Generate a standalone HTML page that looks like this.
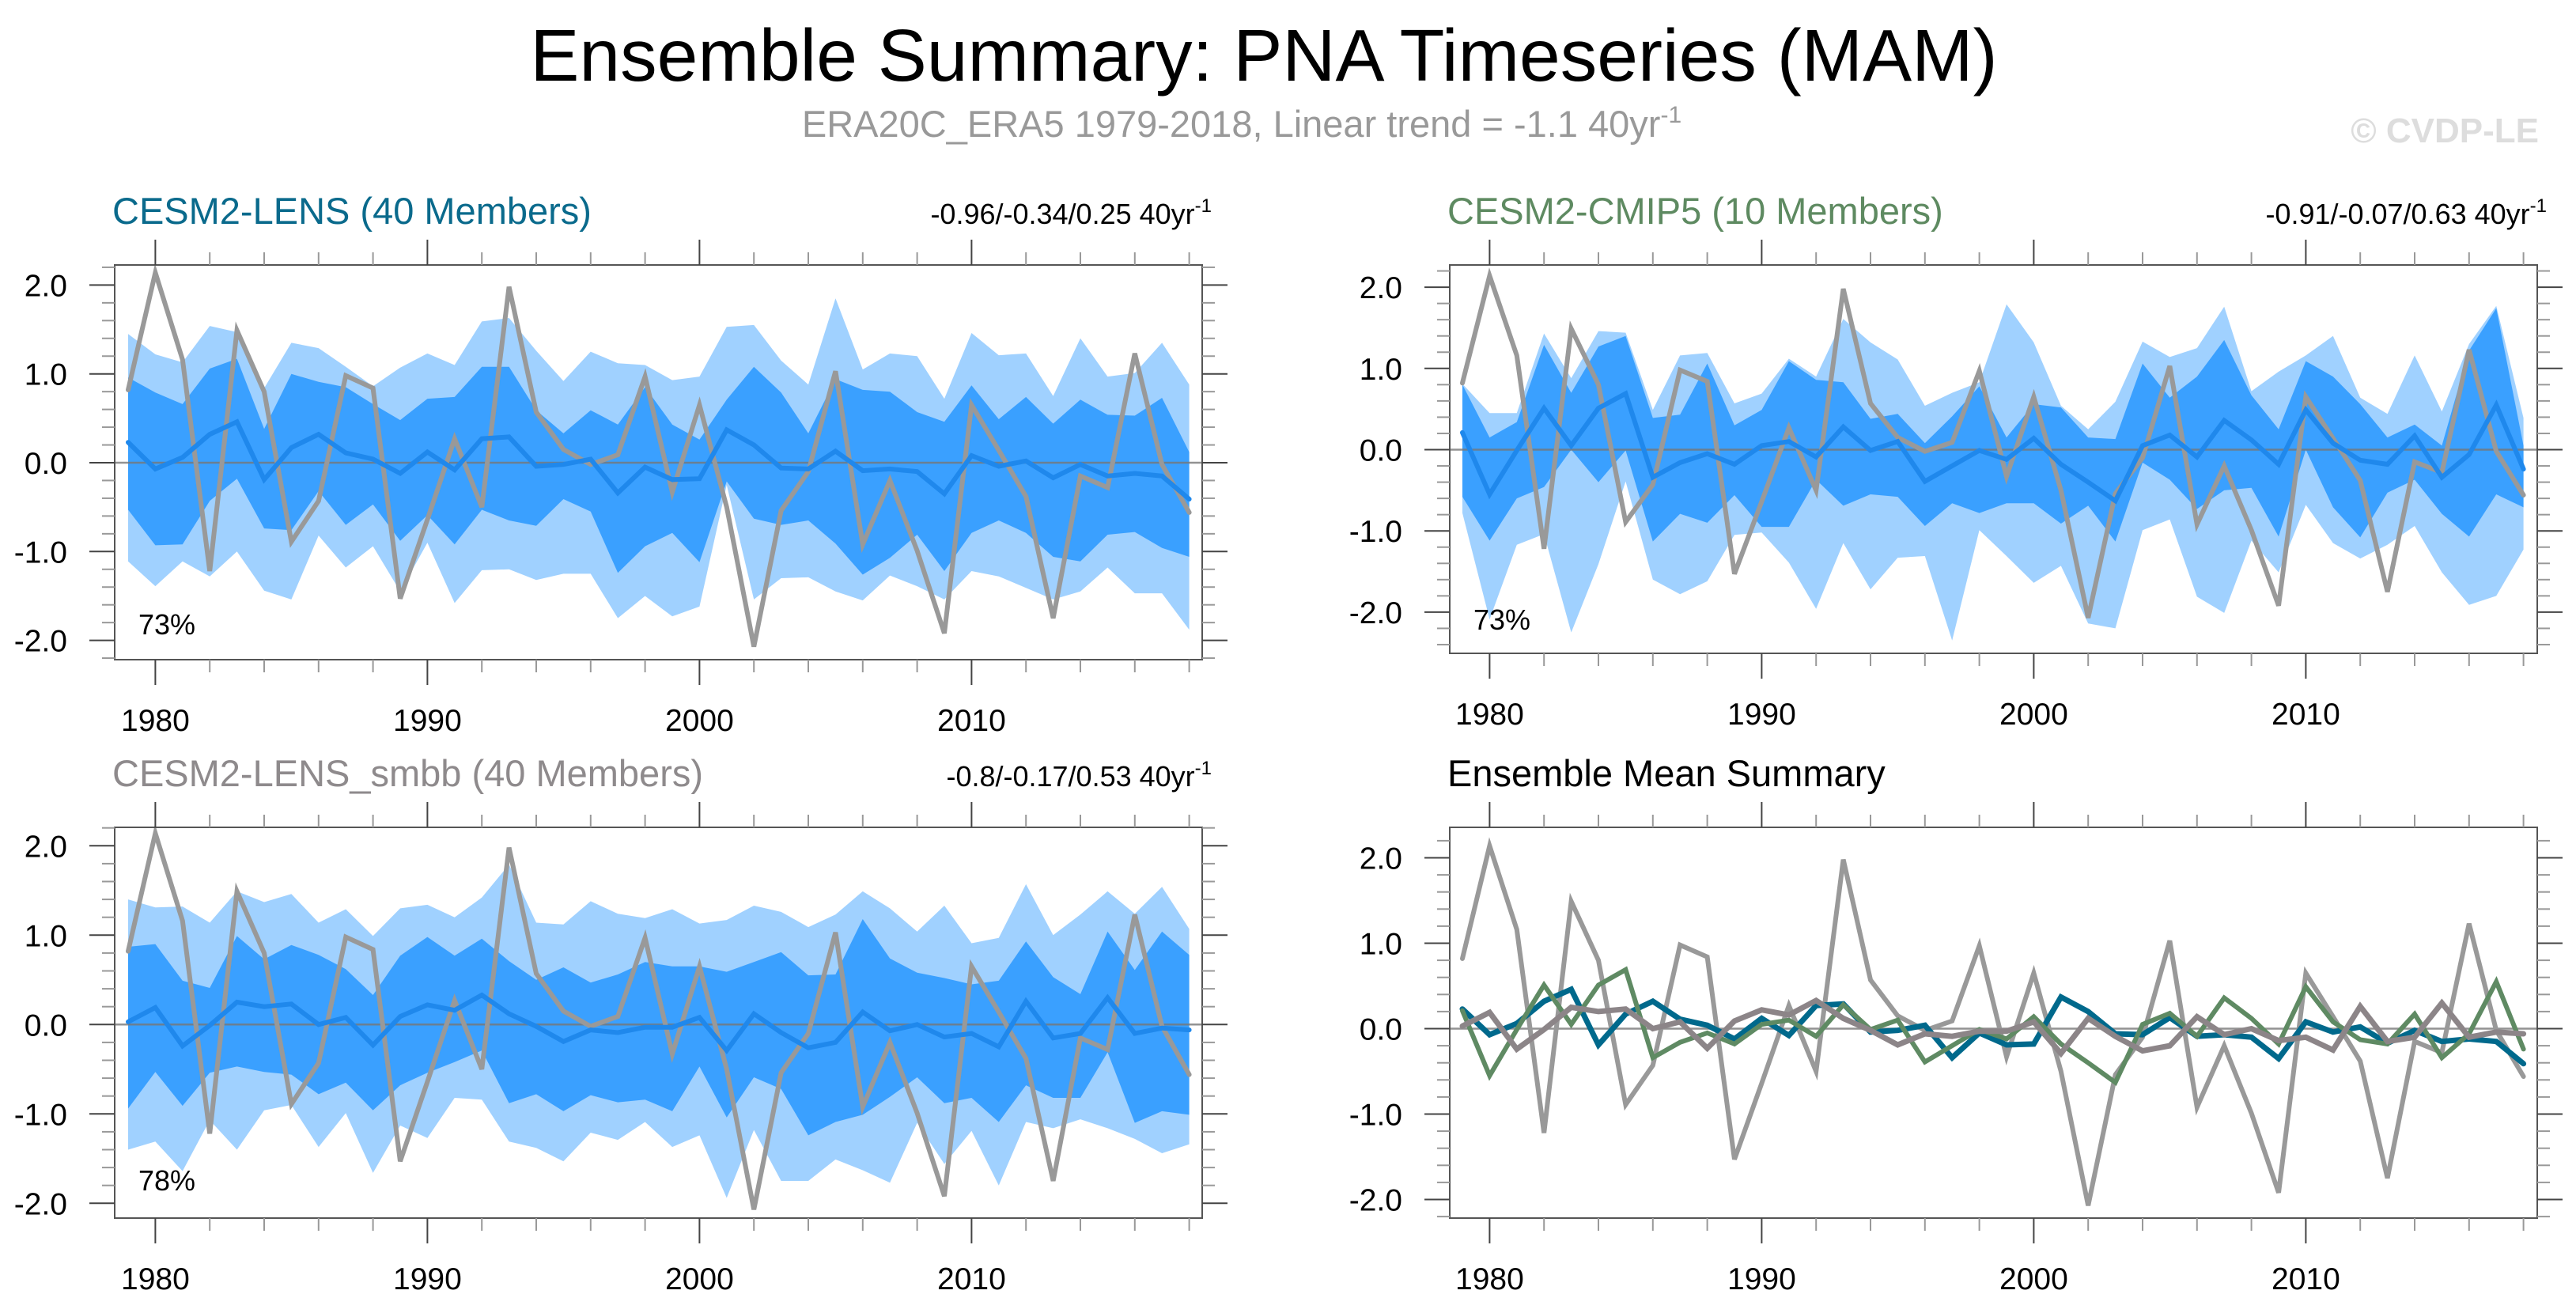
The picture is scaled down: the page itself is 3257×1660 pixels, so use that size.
<!DOCTYPE html>
<html><head><meta charset="utf-8"><style>
html,body{margin:0;padding:0;background:#fff;}
svg{display:block;font-family:"Liberation Sans",Arial,sans-serif;}
</style></head><body>
<svg id="chart" width="3257" height="1660" viewBox="0 0 3257 1660" xmlns="http://www.w3.org/2000/svg">
<rect width="3257" height="1660" fill="#fff"/>
<text x="1598" y="102" font-size="93" text-anchor="middle" fill="#000">Ensemble Summary: PNA Timeseries (MAM)</text>
<text x="1570" y="173" font-size="47" text-anchor="middle" fill="#999">ERA20C_ERA5 1979-2018, Linear trend = -1.1 40yr<tspan dy="-18" font-size="30">-1</tspan></text>
<text x="3210" y="180" font-size="44" font-weight="bold" text-anchor="end" fill="#ddd">© CVDP-LE</text>
<g id="plots"></g>
</svg>
<script>
const years = [1979,1980,1981,1982,1983,1984,1985,1986,1987,1988,1989,1990,1991,1992,1993,1994,1995,1996,1997,1998,1999,2000,2001,2002,2003,2004,2005,2006,2007,2008,2009,2010,2011,2012,2013,2014,2015,2016,2017,2018];
const obs = [0.82,2.14,1.16,-1.22,1.49,0.80,-0.89,-0.43,0.98,0.84,-1.53,-0.64,0.27,-0.50,1.98,0.57,0.15,-0.02,0.09,0.97,-0.33,0.65,-0.5,-2.07,-0.54,-0.1,1.03,-0.92,-0.2,-0.99,-1.92,0.65,0.14,-0.38,-1.75,-0.15,-0.28,1.23,-0.02,-0.56];

const lensMean = [0.23,-0.07,0.06,0.32,0.46,-0.19,0.17,0.32,0.11,0.04,-0.12,0.12,-0.08,0.27,0.29,-0.04,-0.02,0.04,-0.34,-0.05,-0.19,-0.18,0.37,0.2,-0.06,-0.07,0.13,-0.09,-0.07,-0.1,-0.35,0.08,-0.04,0.02,-0.17,-0.02,-0.15,-0.12,-0.15,-0.41];
const lensDarkHi = [0.96,0.79,0.66,1.06,1.17,0.38,1.0,0.91,0.85,0.66,0.48,0.72,0.74,1.08,1.08,0.59,0.33,0.59,0.43,0.85,0.43,0.26,0.71,1.08,0.79,0.33,0.94,0.82,0.8,0.57,0.46,0.87,0.49,0.74,0.44,0.71,0.54,0.53,0.73,0.12];
const lensDarkLo = [-0.53,-0.93,-0.92,-0.43,-0.18,-0.74,-0.76,-0.32,-0.7,-0.47,-0.88,-0.59,-0.92,-0.53,-0.65,-0.71,-0.41,-0.55,-1.24,-0.94,-0.79,-1.12,-0.21,-0.63,-0.7,-0.65,-0.91,-1.26,-1.07,-0.81,-1.22,-0.79,-0.65,-0.79,-1.06,-1.11,-0.81,-0.78,-0.96,-1.06];
const lensLightHi = [1.45,1.22,1.13,1.54,1.47,0.84,1.35,1.29,1.08,0.86,1.07,1.23,1.1,1.59,1.63,1.26,0.92,1.25,1.12,1.1,0.93,0.97,1.53,1.55,1.15,0.88,1.85,1.05,1.23,1.2,0.72,1.46,1.21,1.23,0.75,1.4,0.97,1.01,1.35,0.88];
const lensLightLo = [-1.11,-1.39,-1.11,-1.28,-1.0,-1.44,-1.54,-0.82,-1.18,-0.94,-1.45,-0.9,-1.58,-1.21,-1.2,-1.32,-1.25,-1.25,-1.75,-1.5,-1.73,-1.62,-0.25,-1.54,-1.3,-1.29,-1.45,-1.55,-1.27,-1.39,-1.54,-1.22,-1.28,-1.41,-1.54,-1.45,-1.18,-1.47,-1.47,-1.88];

const cmipMean = [0.21,-0.55,-0.01,0.51,0.05,0.51,0.69,-0.34,-0.16,-0.05,-0.18,0.05,0.1,-0.09,0.28,-0.01,0.1,-0.39,-0.2,-0.01,-0.12,0.14,-0.18,-0.4,-0.63,0.05,0.18,-0.09,0.36,0.12,-0.18,0.49,0.08,-0.13,-0.18,0.17,-0.34,-0.06,0.55,-0.24];
const cmipDarkHi = [0.80,0.15,0.34,1.29,0.7,1.27,1.4,0.39,0.43,1.06,0.3,0.49,1.09,0.86,0.83,0.38,0.44,0.08,0.41,0.78,0.15,0.56,0.52,0.15,0.13,1.06,0.64,0.9,1.35,0.67,0.25,1.09,0.9,0.56,0.15,0.31,0.05,1.22,1.74,0.05];
const cmipDarkLo = [-0.58,-1.12,-0.6,-0.46,0,-0.4,-0.01,-1.13,-0.79,-0.9,-0.56,-0.95,-0.95,-0.37,-0.69,-0.55,-0.58,-0.94,-0.66,-0.78,-0.66,-0.66,-0.91,-0.69,-1.13,-0.16,-0.37,-0.73,-0.5,-0.47,-1.07,0,-0.71,-1.08,-0.53,-0.37,-0.79,-1.07,-0.55,-0.71];
const cmipLightHi = [0.81,0.45,0.45,1.43,0.88,1.46,1.44,0.49,1.16,1.19,0.57,0.69,1.12,0.9,1.61,1.32,1.11,0.54,0.7,0.83,1.79,1.32,0.54,0.25,0.59,1.33,1.14,1.25,1.76,0.72,0.96,1.16,1.4,0.64,0.44,1.16,0.47,1.3,1.77,0.39];
const cmipLightLo = [-0.78,-2.09,-1.17,-1.04,-2.25,-1.41,-0.39,-1.6,-1.78,-1.62,-1.05,-1.02,-1.39,-1.96,-1.15,-1.72,-1.33,-1.31,-2.35,-0.99,-1.31,-1.64,-1.43,-2.14,-2.2,-0.99,-0.86,-1.81,-2.01,-1.12,-1.51,-0.68,-1.15,-1.34,-1.17,-0.94,-1.51,-1.91,-1.8,-1.23];

const smbbMean = [0.03,0.19,-0.24,-0.01,0.25,0.2,0.23,0,0.08,-0.23,0.09,0.22,0.16,0.33,0.12,-0.02,-0.19,-0.06,-0.09,-0.03,-0.03,0.08,-0.29,0.12,-0.09,-0.26,-0.2,0.14,-0.07,0,-0.14,-0.1,-0.25,0.26,-0.15,-0.1,0.3,-0.1,-0.04,-0.06];
const smbbDarkHi = [0.87,0.9,0.49,0.41,0.99,0.73,0.89,0.78,0.62,0.33,0.77,0.98,0.77,0.96,0.71,0.5,0.64,0.47,0.56,0.7,0.65,0.65,0.59,0.7,0.81,0.55,0.56,1.18,0.74,0.58,0.52,0.45,0.49,0.93,0.53,0.34,1.04,0.61,1.04,0.78];
const smbbDarkLo = [-0.94,-0.53,-0.91,-0.54,-0.47,-0.53,-0.56,-0.78,-0.65,-0.96,-0.68,-0.54,-0.42,-0.29,-0.88,-0.78,-0.97,-0.79,-0.87,-0.84,-0.97,-0.47,-1.04,-0.59,-0.72,-1.24,-1.09,-1.01,-0.81,-0.59,-0.88,-0.82,-1.09,-0.68,-0.82,-0.82,-0.31,-1.1,-0.97,-1.01];
const smbbLightHi = [1.4,1.31,1.32,1.14,1.49,1.37,1.46,1.14,1.29,0.99,1.3,1.34,1.2,1.42,1.79,1.14,1.12,1.38,1.24,1.19,1.29,1.13,1.17,1.33,1.26,1.09,1.23,1.49,1.3,1.04,1.33,0.91,0.97,1.57,1.0,1.23,1.49,1.24,1.54,1.07];
const smbbLightLo = [-1.4,-1.31,-1.64,-1.07,-1.4,-0.96,-0.9,-1.37,-0.99,-1.66,-1.13,-1.27,-0.82,-0.84,-1.31,-1.38,-1.53,-1.21,-1.29,-1.09,-1.37,-1.24,-1.94,-1.18,-1.75,-1.75,-1.51,-1.63,-1.77,-1.1,-1.56,-1.19,-1.8,-1.09,-1.16,-1.06,-1.16,-1.28,-1.44,-1.34];

const yTickLabels = ["-2.0","-1.0","0.0","1.0","2.0"];
const xTickLabels = ["1980","1990","2000","2010"];

const NS = "http://www.w3.org/2000/svg";
const root = document.getElementById("plots");
function mk(tag, attrs, parent){
  const e = document.createElementNS(NS, tag);
  for (const k in attrs) e.setAttribute(k, attrs[k]);
  (parent||root).appendChild(e);
  return e;
}

function panel(cfg){
  const g = mk("g", {});
  
  
  const L=cfg.L,R=cfg.R,T=cfg.T,B=cfg.B;
  const xs = y => cfg.x0 + (y - 1979) * cfg.dx;
  const ys = v => cfg.y0 - v * cfg.u;
  const vTop = (cfg.y0 - T)/cfg.u, vBot = (cfg.y0 - B)/cfg.u;
  function band(hi, lo, color, nm){
    let d = "";
    years.forEach((yr,i)=>{ d += (i?"L":"M") + xs(yr).toFixed(1) + "," + ys(hi[i]).toFixed(1); });
    for (let i=years.length-1;i>=0;i--) d += "L" + xs(years[i]).toFixed(1) + "," + ys(lo[i]).toFixed(1);
    const p = mk("path", {d: d+"Z", fill: color}, g);
    
    
  }
  function line(vals, color, w, nm){
    const pts = years.map((yr,i)=> xs(yr).toFixed(1)+","+ys(vals[i]).toFixed(1)).join(" ");
    const p = mk("polyline", {points: pts, fill:"none", stroke: color, "stroke-width": w, "stroke-linejoin":"miter", "stroke-linecap":"round"}, g);
    
    
  }
  if (cfg.bands){
    band(cfg.bands[2], cfg.bands[3], "#a0d1ff", "light-spread-band");
    band(cfg.bands[0], cfg.bands[1], "#3aa0ff", "dark-spread-band");
  }
  const z = mk("line", {x1:L, x2:R, y1:ys(0), y2:ys(0), stroke:"#777", "stroke-width":2.5, "stroke-opacity":0.8}, g);
  
  
  cfg.lines.forEach(l => line(l.v, l.c, l.w, l.n));
  const fr = mk("rect", {x:L, y:T, width:R-L, height:B-T, fill:"none", stroke:"#555", "stroke-width":2}, g);
  
  
  for (let k=-25;k<=25;k++){
    const v = k/5;
    if (v > vTop+0.001 || v < vBot-0.001) continue;
    const major = (k % 5 === 0);
    const len = major ? 32 : 16;
    const y = ys(v);
    mk("line", {x1:L-len, x2:L, y1:y, y2:y, stroke: major?"#444":"#999", "stroke-width":2}, g);
    mk("line", {x1:R, x2:R+len, y1:y, y2:y, stroke: major?"#444":"#999", "stroke-width":2}, g);
  }
  yTickLabels.forEach(t => {
    const v = parseFloat(t);
    const tx = mk("text", {x: L-60, y: ys(v)+14, "font-size":39, "text-anchor":"end", fill:"#000"}, g);
    tx.textContent = t;
    
    
  });
  for (let yr=1980; yr<=2018; yr+=2){
    const major = (yr % 10 === 0);
    const len = major ? 32 : 16;
    const x = xs(yr);
    mk("line", {x1:x, x2:x, y1:T-len, y2:T, stroke: major?"#444":"#999", "stroke-width":2}, g);
    mk("line", {x1:x, x2:x, y1:B, y2:B+len, stroke: major?"#444":"#999", "stroke-width":2}, g);
  }
  xTickLabels.forEach(t => {
    const tx = mk("text", {x: xs(+t), y: B+90, "font-size":39, "text-anchor":"middle", fill:"#000"}, g);
    tx.textContent = t;
    
    
  });
  const tt = mk("text", {x: L-3, y: T-52, "font-size":47, fill: cfg.tc}, g);
  tt.textContent = cfg.title;
  
  
  if (cfg.trend){
    const tr = mk("text", {x: R+12, y: T-52, "font-size":36, "text-anchor":"end", fill:"#000"}, g);
    tr.textContent = cfg.trend + " 40yr";
    const sup = mk("tspan", {dy:-15, "font-size":24}, tr);
    sup.textContent = "-1";
    
    
  }
  if (cfg.pct){
    const pt = mk("text", {x: L+30, y: cfg.pctY, "font-size":36, fill:"#000"}, g);
    pt.textContent = cfg.pct;
    
    
  }
}

panel({name:"cesm2-lens-panel", L:145, R:1520, T:335, B:834, x0:162, dx:34.4, y0:585, u:112.3,
  bands:[lensDarkHi,lensDarkLo,lensLightHi,lensLightLo],
  lines:[{v:obs,c:"#999",w:6,n:"observed-line"},{v:lensMean,c:"#1f88ec",w:6,n:"ensemble-mean-line"}],
  title:"CESM2-LENS (40 Members)", tc:"#0a6a8c", trend:"-0.96/-0.34/0.25", pct:"73%", pctY:802});
panel({name:"cesm2-cmip5-panel", L:1833, R:3208, T:335, B:826, x0:1849, dx:34.4, y0:568.5, u:102.7,
  bands:[cmipDarkHi,cmipDarkLo,cmipLightHi,cmipLightLo],
  lines:[{v:obs,c:"#999",w:6,n:"observed-line"},{v:cmipMean,c:"#1f88ec",w:6,n:"ensemble-mean-line"}],
  title:"CESM2-CMIP5 (10 Members)", tc:"#5e8a61", trend:"-0.91/-0.07/0.63", pct:"73%", pctY:796});
panel({name:"cesm2-lens-smbb-panel", L:145, R:1520, T:1046, B:1540, x0:162, dx:34.4, y0:1295.3, u:113,
  bands:[smbbDarkHi,smbbDarkLo,smbbLightHi,smbbLightLo],
  lines:[{v:obs,c:"#999",w:6,n:"observed-line"},{v:smbbMean,c:"#1f88ec",w:6,n:"ensemble-mean-line"}],
  title:"CESM2-LENS_smbb (40 Members)", tc:"#8e8a8c", trend:"-0.8/-0.17/0.53", pct:"78%", pctY:1505});
panel({name:"ensemble-mean-summary-panel", L:1833, R:3208, T:1046, B:1540, x0:1849, dx:34.4, y0:1300.5, u:108,
  bands:null,
  lines:[{v:obs,c:"#999",w:6,n:"observed-line"},{v:lensMean,c:"#00698c",w:7,n:"lens-mean-line"},{v:cmipMean,c:"#5f8a63",w:6,n:"cmip5-mean-line"},{v:smbbMean,c:"#8c8588",w:7,n:"smbb-mean-line"}],
  title:"Ensemble Mean Summary", tc:"#000", trend:null, pct:null});
</script>
</body></html>
